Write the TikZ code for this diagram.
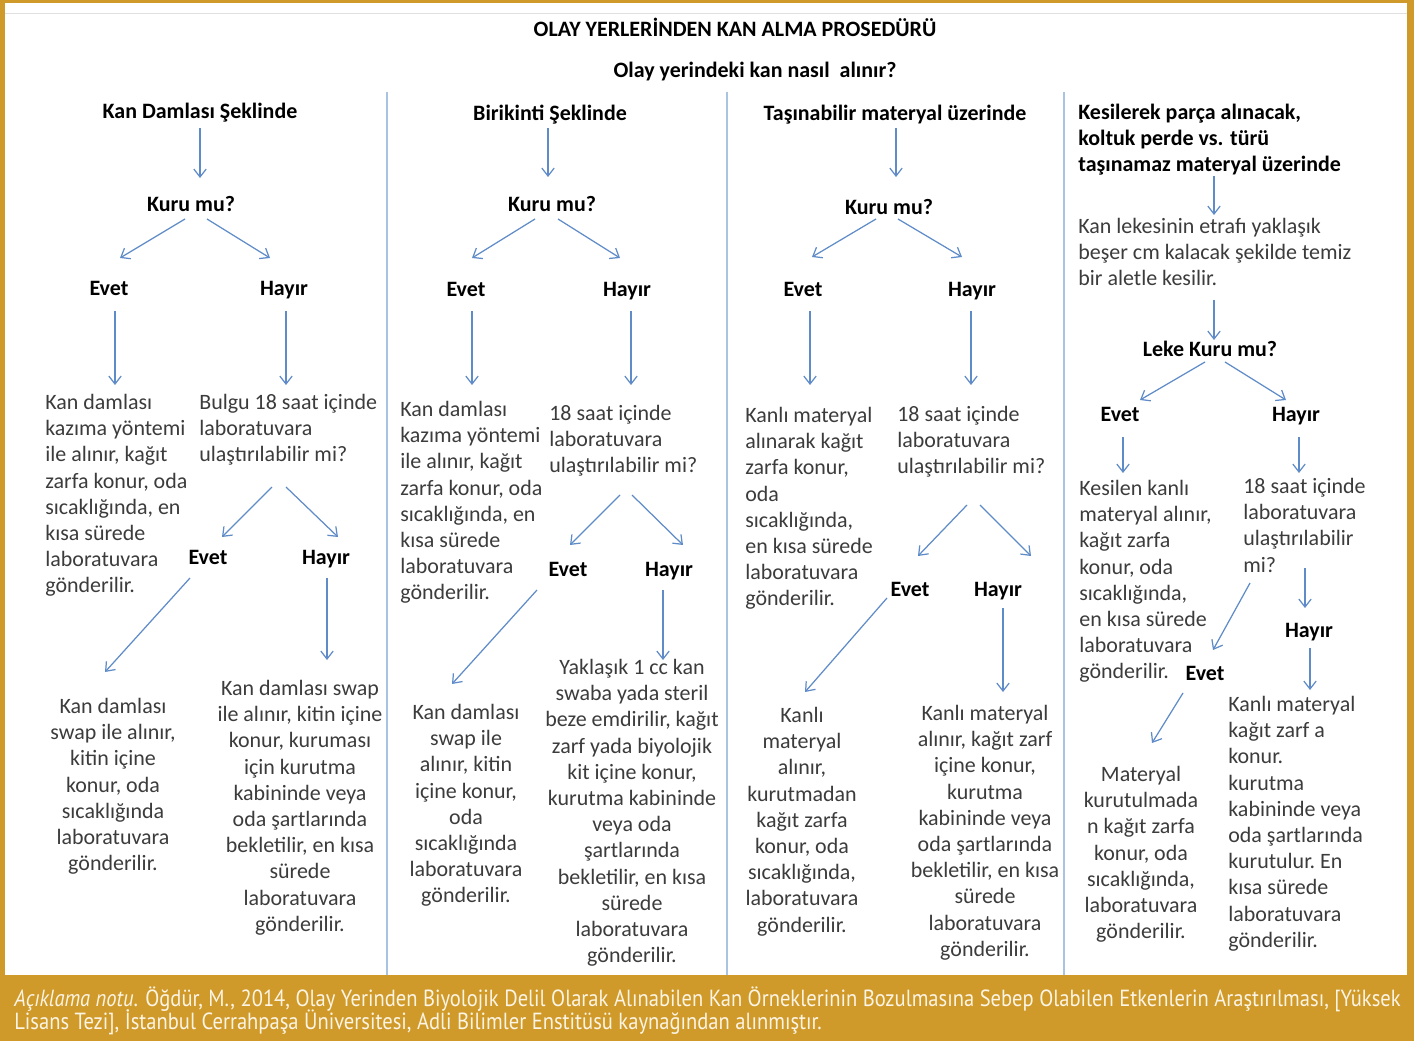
\documentclass[tikz,border=0pt]{standalone}
\usepackage{fontspec}
\setmainfont{Carlito}
\newfontfamily\notfont[FakeStretch=0.88]{PT Sans}
\usetikzlibrary{arrows.meta,calc}
\definecolor{altin}{RGB}{207,154,42}
\definecolor{okmavi}{RGB}{95,140,200}
\definecolor{ayirici}{RGB}{170,195,225}
\definecolor{metin}{RGB}{60,60,60}
\definecolor{notrenk}{RGB}{252,244,228}

\begin{document}
\begin{tikzpicture}[x=0.02cm,y=-0.02cm,
    hd/.style={font=\bfseries\fontsize{12.5}{14.8}\selectfont, inner sep=0, text=black, text height=9pt, text depth=1pt},
    hdl/.style={font=\bfseries\fontsize{12.5}{14.8}\selectfont, inner sep=0, text=black, anchor=north west, align=left},
    txtl/.style={font=\fontsize{12.5}{14.9}\selectfont, inner sep=0, text=metin, anchor=north west, align=left},
    txtc/.style={font=\fontsize{12.5}{14.9}\selectfont, inner sep=0, text=metin, anchor=north, align=center},
    arr/.style={draw=okmavi, line width=0.7pt, -{Straight Barb[length=4.5pt,width=7pt]}}]
    \useasboundingbox (0,0) rectangle (1414,1041);
    %cerceve
    \fill[altin] (0,0) rectangle (1414,1041);
    \fill[white] (5,3) rectangle (1407,975);
    \draw[black!12] (5,13) -- (1407,13);
    \draw[ayirici, line width=1.1pt] (387,92) -- (387,975);
    \draw[ayirici, line width=1.1pt] (727,92) -- (727,975);
    \draw[ayirici, line width=1.1pt] (1064,92) -- (1064,975);

    \node[hd] (t0) at (735,29) {OLAY YERLERİNDEN KAN ALMA PROSEDÜRÜ};
    \node[hd] (q0) at (755,70) {Olay yerindeki kan nasıl \ alınır?};

    %kolon 1
    \node[hd] (h1) at (200,111) {Kan Damlası Şeklinde};
    \node[hd] (k1) at (191,204) {Kuru mu?};
    \node[hd] (e1) at (109,288) {Evet};
    \node[hd] (n1) at (284,288) {Hayır};
    \node[txtl] (a1) at (45,394) {Kan damlası\\kazıma yöntemi\\ile alınır, kağıt\\zarfa konur, oda\\sıcaklığında, en\\kısa sürede\\laboratuvara\\gönderilir.};
    \node[txtl] (b1) at (199,394) {Bulgu 18 saat içinde\\laboratuvara\\ulaştırılabilir mi?};
    \node[hd] (e1b) at (208,557) {Evet};
    \node[hd] (n1b) at (326,557) {Hayır};
    \node[txtc] (c1) at (113,698) {Kan damlası\\swap ile alınır,\\kitin içine\\konur, oda\\sıcaklığında\\laboratuvara\\gönderilir.};
    \node[txtc] (d1) at (300,680) {Kan damlası swap\\ile alınır, kitin içine\\konur, kuruması\\için kurutma\\kabininde veya\\oda şartlarında\\bekletilir, en kısa\\sürede\\laboratuvara\\gönderilir.};
    \draw[arr] ($(h1)+(0,17)$) -- ($(k1)+(9,-26)$);
    \draw[arr] ($(k1)+(-6,15)$) -- ($(e1)+(11,-30)$);
    \draw[arr] ($(k1)+(16,15)$) -- ($(n1)+(-14,-30)$);
    \draw[arr] ($(e1)+(6,23)$) -- ($(a1.north west)+(70,-9)$);
    \draw[arr] ($(n1)+(2,23)$) -- ($(b1.north west)+(87,-9)$);
    \draw[arr] ($(b1.north west)+(73,93)$) -- ($(e1b)+(14,-20)$);
    \draw[arr] ($(b1.north west)+(87,93)$) -- ($(n1b)+(12,-20)$);
    \draw[arr] ($(e1b)+(-18,21)$) -- ($(c1.north)+(-8,-26)$);
    \draw[arr] ($(n1b)+(1,21)$) -- ($(d1.north)+(27,-20)$);

    %kolon 2
    \node[hd] (h2) at (550,113) {Birikinti Şeklinde};
    \node[hd] (k2) at (552,204) {Kuru mu?};
    \node[hd] (e2) at (466,289) {Evet};
    \node[hd] (n2) at (627,289) {Hayır};
    \node[txtl] (a2) at (400,401) {Kan damlası\\kazıma yöntemi\\ile alınır, kağıt\\zarfa konur, oda\\sıcaklığında, en\\kısa sürede\\laboratuvara\\gönderilir.};
    \node[txtl] (b2) at (549,405) {18 saat içinde\\laboratuvara\\ulaştırılabilir mi?};
    \node[hd] (e2b) at (568,569) {Evet};
    \node[hd] (n2b) at (669,569) {Hayır};
    \node[txtc] (c2) at (466,704) {Kan damlası\\swap ile\\alınır, kitin\\içine konur,\\oda\\sıcaklığında\\laboratuvara\\gönderilir.};
    \node[txtc] (d2) at (632,659) {Yaklaşık 1 cc kan\\swaba yada steril\\beze emdirilir, kağıt\\zarf yada biyolojik\\kit içine konur,\\kurutma kabininde\\veya oda\\şartlarında\\bekletilir, en kısa\\sürede\\laboratuvara\\gönderilir.};
    \draw[arr] ($(h2)+(-2,15)$) -- ($(k2)+(-4,-27)$);
    \draw[arr] ($(k2)+(-17,15)$) -- ($(e2)+(6,-31)$);
    \draw[arr] ($(k2)+(6,15)$) -- ($(n2)+(-7,-31)$);
    \draw[arr] ($(e2)+(6,22)$) -- ($(a2.north west)+(72,-16)$);
    \draw[arr] ($(n2)+(4,22)$) -- ($(b2.north west)+(82,-20)$);
    \draw[arr] ($(b2.north west)+(71,90)$) -- ($(e2b)+(2,-24)$);
    \draw[arr] ($(b2.north west)+(83,90)$) -- ($(n2b)+(14,-24)$);
    \draw[arr] ($(e2b)+(-31,21)$) -- ($(c2.north)+(-14,-20)$);
    \draw[arr] ($(n2b)+(-6,21)$) -- ($(d2.north)+(31,1)$);

    %kolon 3
    \node[hd] (h3) at (895,113) {Taşınabilir materyal üzerinde};
    \node[hd] (k3) at (889,207) {Kuru mu?};
    \node[hd] (e3) at (803,289) {Evet};
    \node[hd] (n3) at (972,289) {Hayır};
    \node[txtl] (a3) at (745,407) {Kanlı materyal\\alınarak kağıt\\zarfa konur,\\oda\\sıcaklığında,\\en kısa sürede\\laboratuvara\\gönderilir.};
    \node[txtl] (b3) at (897,406) {18 saat içinde\\laboratuvara\\ulaştırılabilir mi?};
    \node[hd] (e3b) at (910,589) {Evet};
    \node[hd] (n3b) at (998,589) {Hayır};
    \node[txtc] (c3) at (802,707) {Kanlı\\materyal\\alınır,\\kurutmadan\\kağıt zarfa\\konur, oda\\sıcaklığında,\\laboratuvara\\gönderilir.};
    \node[txtc] (d3) at (985,705) {Kanlı materyal\\alınır, kağıt zarf\\içine konur,\\kurutma\\kabininde veya\\oda şartlarında\\bekletilir, en kısa\\sürede\\laboratuvara\\gönderilir.};
    \draw[arr] ($(h3)+(1,15)$) -- ($(k3)+(7,-30)$);
    \draw[arr] ($(k3)+(-13,12)$) -- ($(e3)+(9,-32)$);
    \draw[arr] ($(k3)+(9,12)$) -- ($(n3)+(-10,-32)$);
    \draw[arr] ($(e3)+(7,22)$) -- ($(a3.north west)+(65,-22)$);
    \draw[arr] ($(n3)+(-1,22)$) -- ($(b3.north west)+(74,-21)$);
    \draw[arr] ($(b3.north west)+(70,99)$) -- ($(e3b)+(8,-33)$);
    \draw[arr] ($(b3.north west)+(83,99)$) -- ($(n3b)+(33,-33)$);
    \draw[arr] ($(e3b)+(-23,9)$) -- ($(c3.north)+(3,-15)$);
    \draw[arr] ($(n3b)+(5,19)$) -- ($(d3.north)+(18,-13)$);

    %kolon 4
    \node[hdl] (h4) at (1078,104) {Kesilerek parça alınacak,\\koltuk perde vs. türü\\taşınamaz materyal üzerinde};
    \node[txtl] (f4) at (1078,218) {Kan lekesinin etrafı yaklaşık\\beşer cm kalacak şekilde temiz\\bir aletle kesilir.};
    \node[hd] (k4) at (1210,349) {Leke Kuru mu?};
    \node[hd] (e4) at (1120,414) {Evet};
    \node[hd] (n4) at (1296,414) {Hayır};
    \node[txtl] (a4) at (1079,480) {Kesilen kanlı\\materyal alınır,\\kağıt zarfa\\konur, oda\\sıcaklığında,\\en kısa sürede\\laboratuvara\\gönderilir.};
    \node[txtl] (b4) at (1243,478) {18 saat içinde\\laboratuvara\\ulaştırılabilir\\mi?};
    \node[hd] (e4b) at (1205,673) {Evet};
    \node[hd] (n4b) at (1309,630) {Hayır};
    \node[txtc] (c4) at (1141,766) {Materyal\\kurutulmada\\n kağıt zarfa\\konur, oda\\sıcaklığında,\\laboratuvara\\gönderilir.};
    \node[txtl] (d4) at (1228,696) {Kanlı materyal\\kağıt zarf a\\konur.\\kurutma\\kabininde veya\\oda şartlarında\\kurutulur.\ En\\kısa sürede\\laboratuvara\\gönderilir.};
    \draw[arr] ($(h4.north west)+(136,72)$) -- ($(f4.north west)+(136,-3)$);
    \draw[arr] ($(f4.north west)+(136,82)$) -- ($(k4)+(4,-9)$);
    \draw[arr] ($(k4)+(-5,13)$) -- ($(e4)+(20,-14)$);
    \draw[arr] ($(k4)+(15,13)$) -- ($(n4)+(-10,-14)$);
    \draw[arr] ($(e4)+(3,23)$) -- ($(a4.north west)+(44,-7)$);
    \draw[arr] ($(n4)+(3,23)$) -- ($(b4.north west)+(56,-5)$);
    \draw[arr] ($(b4.north west)+(7,105)$) -- ($(e4b)+(8,-23)$);
    \draw[arr] ($(b4.north west)+(62,90)$) -- ($(n4b)+(-4,-22)$);
    \draw[arr] ($(n4b)+(1,18)$) -- ($(d4.north west)+(82,-6)$);
    \draw[arr] ($(e4b)+(-22,20)$) -- ($(c4.north)+(11,-23)$);

    %not
    \node[anchor=north west, inner sep=0, text=notrenk, align=left,
        font={\notfont\fontsize{13.3}{13.6}\selectfont\lineskiplimit-6pt\relax}] (not) at (14,986)
        {\textit{Açıklama notu}. Öğdür, M., 2014, Olay Yerinden Biyolojik Delil Olarak Alınabilen Kan Örneklerinin Bozulmasına Sebep Olabilen Etkenlerin Araştırılması, [Yüksek\\Lisans Tezi], İstanbul Cerrahpaşa Üniversitesi, Adli Bilimler Enstitüsü kaynağından alınmıştır.};
\end{tikzpicture}
\end{document}
